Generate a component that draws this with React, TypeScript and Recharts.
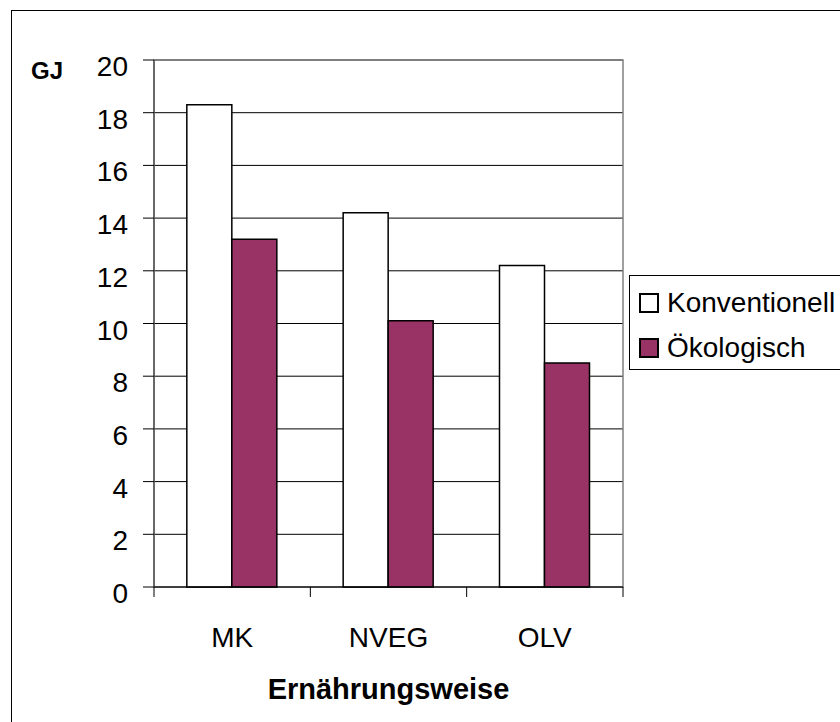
import React from "react";
import {
  BarChart,
  Bar,
  XAxis,
  YAxis,
  CartesianGrid,
  Legend,
  ReferenceArea,
} from "recharts";

const categories = ["MK", "NVEG", "OLV"];
const konventionell = [18.3, 14.2, 12.2];
const oekologisch = [13.2, 10.1, 8.5];
const yTicks = [0, 2, 4, 6, 8, 10, 12, 14, 16, 18, 20];
const seriesNames = ["Konventionell", "Ökologisch"];
const seriesColors = ["#FFFFFF", "#993366"];

const data = categories.map((name, i) => ({
  name,
  konv: konventionell[i],
  oeko: oekologisch[i],
}));

const FONT = '"Liberation Sans", Arial, sans-serif';

const YTick = ({ x, y, payload }: any) => (
  <text
    x={x}
    y={y}
    dy={16}
    textAnchor="end"
    fontSize={28}
    fontFamily={FONT}
    fill="#000"
  >
    {payload.value}
  </text>
);

// category label plus tick marks at the band boundaries (Excel style)
const XTick = ({ x, y, payload, width, index, visibleTicksCount }: any) => {
  const band = width / visibleTicksCount;
  const isLast = index === visibleTicksCount - 1;
  return (
    <g>
      <line x1={x - band / 2} x2={x - band / 2} y1={y} y2={y + 10} stroke="#000" />
      {isLast && (
        <line x1={x + band / 2} x2={x + band / 2} y1={y} y2={y + 10} stroke="#000" />
      )}
      <text
        x={x}
        y={y}
        dy={60}
        textAnchor="middle"
        fontSize={28}
        fontFamily={FONT}
        fill="#000"
      >
        {payload.value}
      </text>
    </g>
  );
};

const XLabel = ({ viewBox }: any) => (
  <text
    x={viewBox.x + viewBox.width / 2}
    y={viewBox.y + 112}
    textAnchor="middle"
    fontSize={29}
    fontWeight="bold"
    fontFamily={FONT}
    fill="#000"
  >
    Ernährungsweise
  </text>
);

const YLabel = ({ viewBox }: any) => (
  <text
    x={viewBox.x + 7}
    y={viewBox.y + 19}
    textAnchor="start"
    fontSize={24}
    fontWeight="bold"
    fontFamily={FONT}
    fill="#000"
  >
    GJ
  </text>
);

const LegendBox = ({ payload }: any) => (
  <div
    style={{
      width: 240,
      height: 95,
      boxSizing: "border-box",
      border: "1px solid #000",
      paddingTop: 4,
      background: "#fff",
    }}
  >
    {(payload || []).map((entry: any, i: number) => (
      <div
        key={`leg-${i}`}
        style={{ display: "flex", alignItems: "center", height: 45 }}
      >
        <div
          style={{
            width: 20,
            height: 20,
            boxSizing: "border-box",
            border: "2px solid #000",
            background: entry.color,
            marginLeft: 9,
            marginRight: 8,
          }}
        />
        <span
          style={{
            fontSize: 28,
            lineHeight: 1,
            fontFamily: FONT,
            color: "#000",
            whiteSpace: "nowrap",
          }}
        >
          {entry.value}
        </span>
      </div>
    ))}
  </div>
);

export default function App() {
  return (
    <div
      style={{
        position: "absolute",
        left: 0,
        top: 0,
        width: 840,
        height: 722,
        overflow: "hidden",
        background: "#fff",
      }}
    >
      <div
        style={{
          position: "absolute",
          left: 11,
          top: 10,
          width: 900,
          height: 800,
          border: "1px solid #000",
        }}
      />
      <BarChart
        width={840}
        height={722}
        data={data}
        margin={{ top: 60, right: 217, left: 24, bottom: 15 }}
        barCategoryGap="21%"
        barGap={0}
      >
        <CartesianGrid vertical={false} stroke="#000" />
        <ReferenceArea
          y1={0}
          y2={20}
          fill="none"
          stroke="#808080"
          strokeWidth={1.5}
          ifOverflow="visible"
        />
        <XAxis
          dataKey="name"
          tick={XTick}
          tickLine={false}
          tickSize={0}
          tickMargin={0}
          axisLine={{ stroke: "#000" }}
          height={120}
          interval={0}
          label={XLabel}
        />
        <YAxis
          domain={[0, 20]}
          ticks={yTicks}
          interval={0}
          width={130}
          tickSize={11}
          tickMargin={15}
          tick={YTick}
          axisLine={{ stroke: "#333" }}
          tickLine={{ stroke: "#000" }}
          label={YLabel}
        />
        <Legend
          layout="vertical"
          align="center"
          verticalAlign="middle"
          content={LegendBox}
          wrapperStyle={{ left: 629, top: 275, width: 240 }}
        />
        <Bar
          dataKey="konv"
          name={seriesNames[0]}
          fill={seriesColors[0]}
          stroke="#000"
          strokeWidth={1.5}
          isAnimationActive={false}
        />
        <Bar
          dataKey="oeko"
          name={seriesNames[1]}
          fill={seriesColors[1]}
          stroke="#000"
          strokeWidth={1.5}
          isAnimationActive={false}
        />
      </BarChart>
    </div>
  );
}
